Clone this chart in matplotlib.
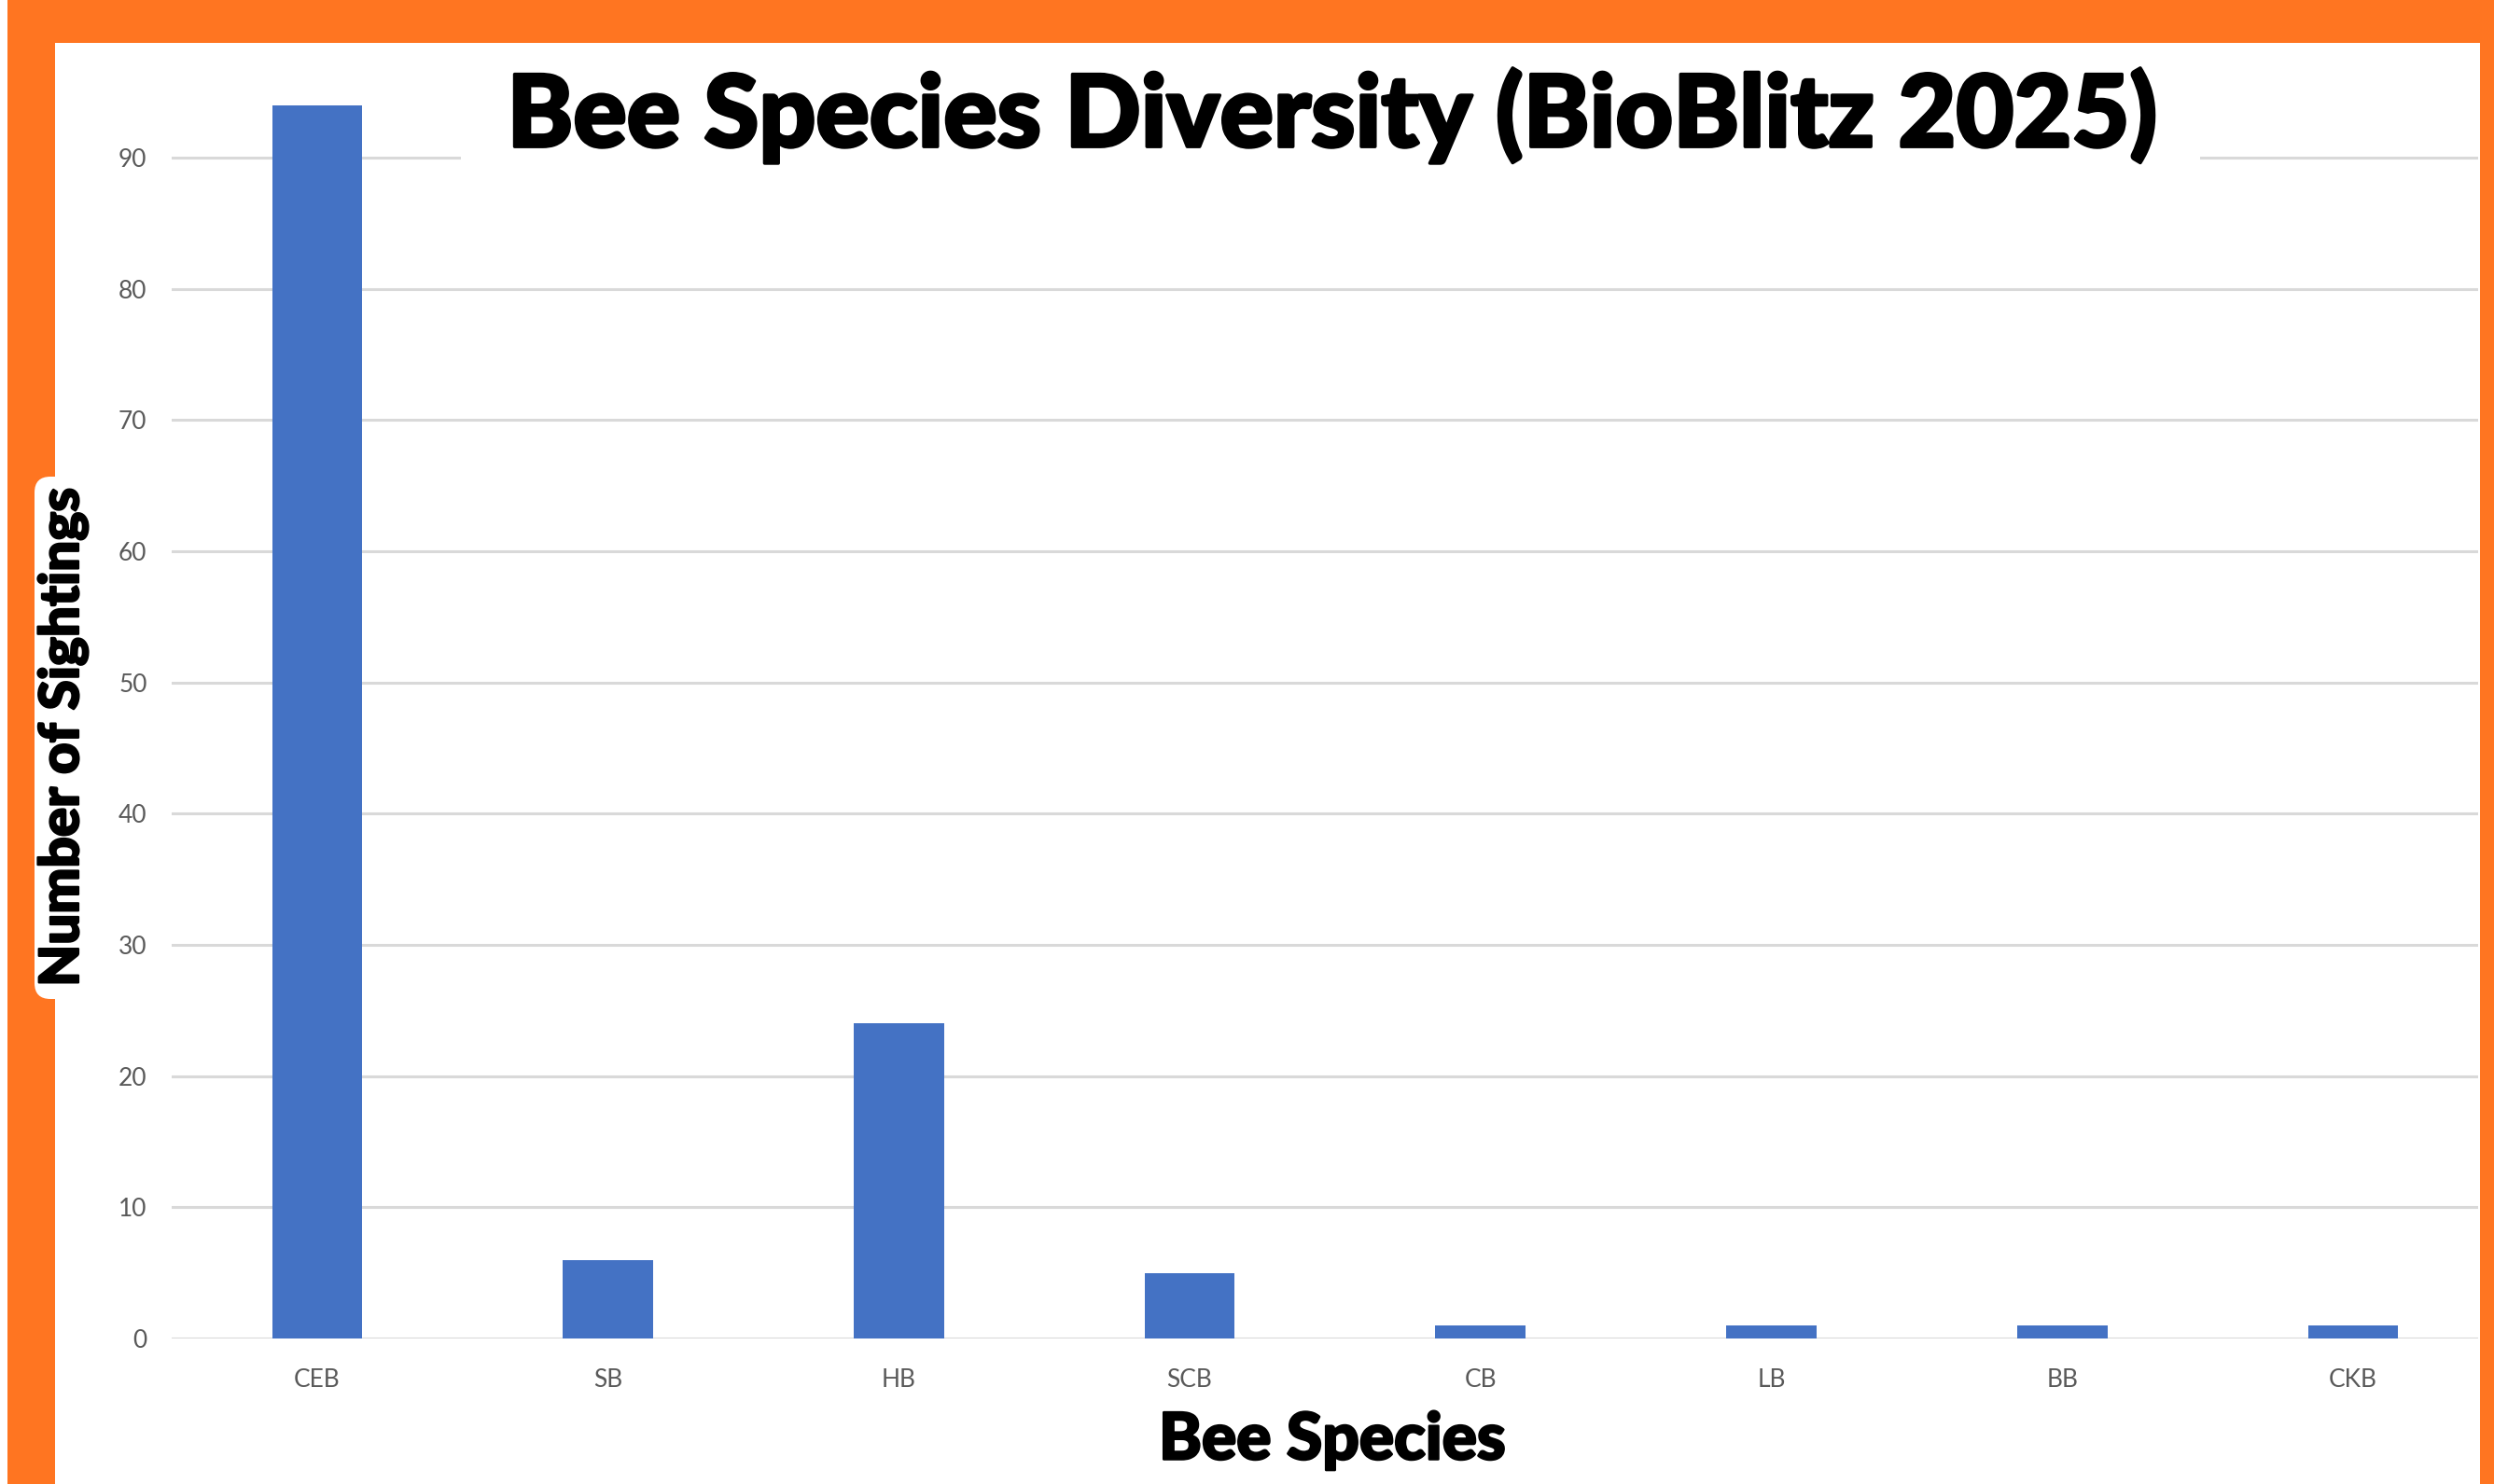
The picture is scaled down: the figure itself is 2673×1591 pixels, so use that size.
import matplotlib
matplotlib.use('Agg')
import matplotlib.pyplot as plt
import matplotlib.patheffects as pe
from matplotlib.patches import Rectangle, FancyBboxPatch
from matplotlib.transforms import IdentityTransform

# data
species = ['CEB', 'SB', 'HB', 'SCB', 'CB', 'LB', 'BB', 'CKB']
sightings = [94, 6, 24, 5, 1, 1, 1, 1]
yticks = [0, 10, 20, 30, 40, 50, 60, 70, 80, 90]

W, H = 2673, 1591
DPI = 100
orange = '#ff7521'
blue = '#4472c4'
grey_txt = '#595959'
grid_c = '#d9d9d9'
heavy = ['Lato', 'DejaVu Sans']
thick = [pe.withStroke(linewidth=2.5, foreground='black')]

def fx(x):
    return x / W

def fy(y):
    return 1 - y / H

fig = plt.figure(figsize=(W / DPI, H / DPI), dpi=DPI, facecolor='white')

# orange frame and white panel (behind the axes)
fig.patches.append(Rectangle((fx(8), 0), 1 - fx(8), 1, transform=fig.transFigure,
                             facecolor=orange, edgecolor='none', zorder=-3))
fig.patches.append(Rectangle((fx(59), 0), fx(2658) - fx(59), fy(46), transform=fig.transFigure,
                             facecolor='white', edgecolor='none', zorder=-2))
# rounded white tab behind the y label (pixel coords)
fig.patches.append(FancyBboxPatch((37, H - 1071), 80, 560, boxstyle='round,pad=0,rounding_size=17',
                                  transform=IdentityTransform(), facecolor='white',
                                  edgecolor='none', zorder=-1))
# white strip behind the title, hiding the top gridline
fig.patches.append(Rectangle((fx(494), fy(200)), fx(2358) - fx(494), fy(60) - fy(200),
                             transform=fig.transFigure, facecolor='white', edgecolor='none',
                             zorder=1))

ax = fig.add_axes([fx(184), fy(1435), fx(2656) - fx(184), fy(46) - fy(1435)])
ax.set_facecolor('none')
ax.bar(range(len(species)), sightings, width=0.31, color=blue, zorder=2)
ax.set_xlim(-0.5, 7.43)
ax.set_ylim(0, 98.74)
ax.set_yticks(yticks)
ax.set_xticks(range(len(species)))
ax.set_xticklabels(species)
ax.tick_params(axis='both', length=0, labelsize=19, labelcolor=grey_txt)
ax.tick_params(axis='y', pad=19)
ax.tick_params(axis='x', pad=23)
for lab in ax.get_xticklabels() + ax.get_yticklabels():
    lab.set_fontfamily(['Lato', 'DejaVu Sans'])
ax.yaxis.grid(True, color=grid_c, linewidth=2.2)
ax.set_axisbelow(True)
for s in ax.spines.values():
    s.set_visible(False)

fig.text(fx(1428), fy(124), 'Bee Species Diversity (BioBlitz 2025)', ha='center', va='center',
         fontsize=77, fontweight='black', family=heavy, color='black', zorder=3,
         path_effects=thick)
fig.text(fx(1428), fy(1545), 'Bee Species', ha='center', va='center',
         fontsize=50, fontweight='black', family=heavy, color='black',
         path_effects=[pe.withStroke(linewidth=1.8, foreground='black')])
fig.text(fx(68), fy(790), 'Number of Sightings', ha='center', va='center', rotation=90,
         fontsize=42, fontweight='black', family=heavy, color='black',
         path_effects=[pe.withStroke(linewidth=1.6, foreground='black')])

fig.savefig('out.png', dpi=DPI, facecolor='white')
